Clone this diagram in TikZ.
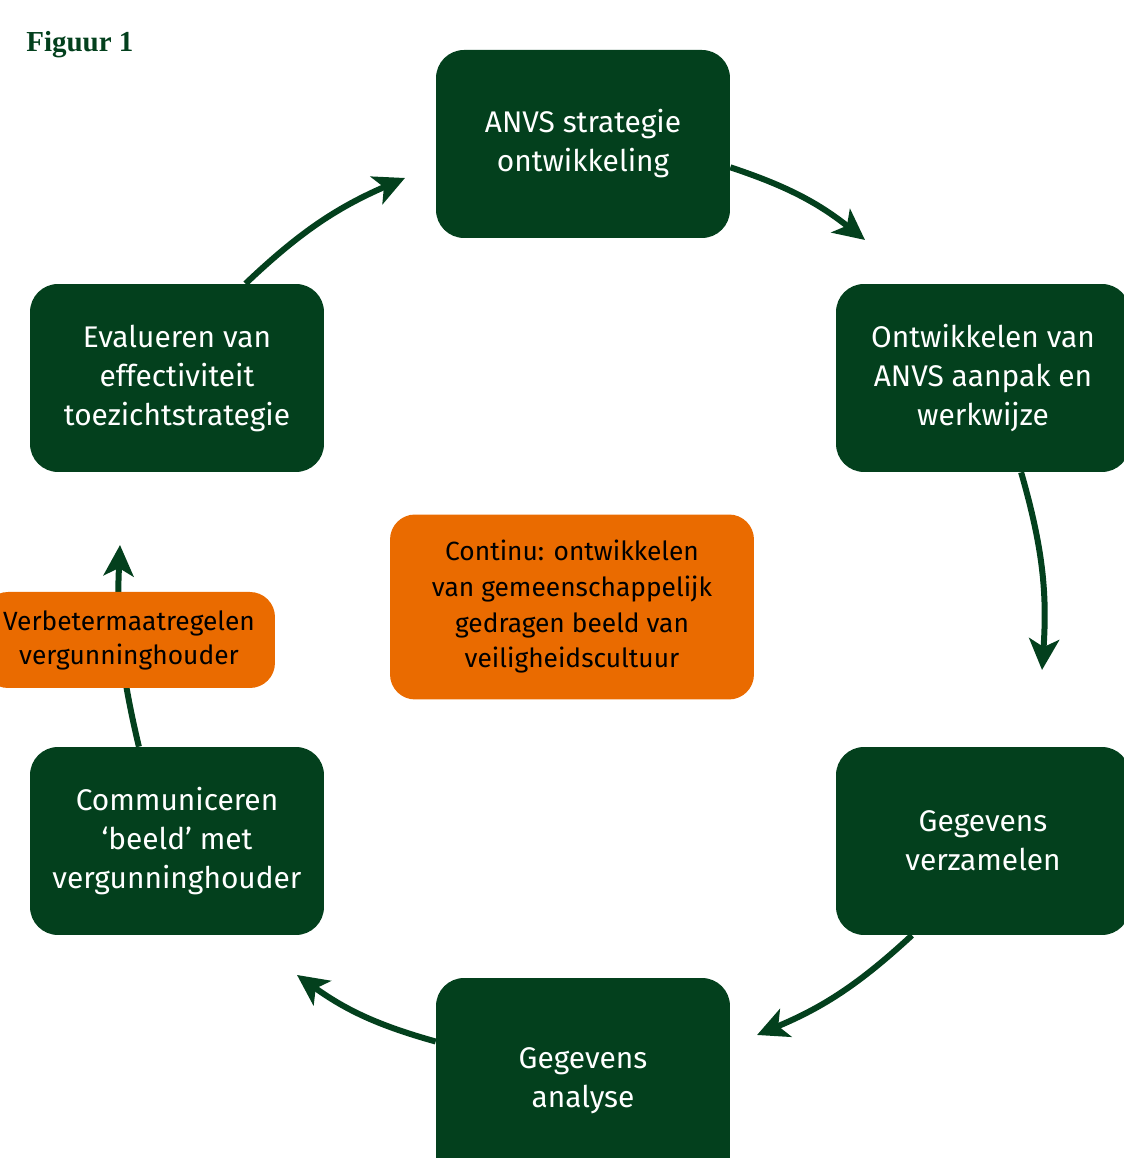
\documentclass[tikz,border=0pt]{standalone}
\usepackage{fontspec}
\setmainfont{Fira Sans}
\newfontfamily\figfont{Liberation Serif}
\usepackage{xcolor}
\usetikzlibrary{arrows.meta}
\definecolor{anvsgreen}{RGB}{3,64,29}
\definecolor{anvsorange}{RGB}{234,107,0}

\begin{document}
\begin{tikzpicture}[x=0.02cm,y=0.02cm,
  stapbox/.style={fill=anvsgreen, text=white, rounded corners=0.56cm,
    minimum width=5.88cm, minimum height=3.76cm, align=center, inner sep=0pt,
    font=\fontsize{17}{22.2}\selectfont},
  extrabox/.style={fill=anvsorange, text=black, rounded corners=0.5cm,
    align=center, inner sep=0pt, font=\fontsize{15}{20.3}\selectfont},
  pijl/.style={draw=anvsgreen, line width=0.12cm,
    -{Stealth[length=0.62cm,width=0.6cm,inset=0.16cm]}}]
\useasboundingbox (0,0) rectangle (1124,1158);
\clip (0,0) rectangle (1124,1158);
\node[anchor=base west, text=anvsgreen, inner sep=0pt,
  font=\figfont\bfseries\fontsize{16.5}{19}\selectfont] (fig) at (26,1106) {Figuur 1};
\node[stapbox] (strat) at (583,1014) {ANVS strategie\\ontwikkeling};
\node[stapbox] (aanpak) at (983,780) {Ontwikkelen van\\ANVS aanpak en\\werkwijze};
\node[stapbox] (verz) at (983,317) {Gegevens\\verzamelen};
\node[stapbox, minimum height=4.12cm] (anal) at (583,77) {Gegevens\\analyse};
\node[stapbox] (comm) at (177,317) {Communiceren\\‘beeld’ met\\vergunninghouder};
\node[stapbox] (eval) at (177,780) {Evalueren van\\effectiviteit\\toezichtstrategie};
\coordinate (t1) at (865,918);
\coordinate (t2) at (1042,488);
\coordinate (t3) at (757,123);
\coordinate (t4) at (297,183);
\coordinate (t5) at (120,613);
\coordinate (t6) at (405,980);
\draw[pijl] (strat.-9) to[bend left=10] (t1);
\draw[pijl] (aanpak.-68) to[bend left=10] (t2);
\draw[pijl] (verz.-127) to[bend left=10] (t3);
\draw[pijl] (anal.165) to[bend left=10] (t4);
\draw[pijl] (comm.112) to[bend left=8] (t5);
\draw[pijl] (eval.54) to[bend left=10] (t6);
\node[extrabox, minimum width=7.28cm, minimum height=3.7cm] (cont) at (572,551)
  {Continu: ontwikkelen\\van gemeenschappelijk\\gedragen beeld van\\veiligheidscultuur};
\node[extrabox, minimum width=5.84cm, minimum height=1.92cm,
  font=\fontsize{15}{19.3}\selectfont] (verb) at (129,518)
  {Verbetermaatregelen\\vergunninghouder};
\end{tikzpicture}
\end{document}
